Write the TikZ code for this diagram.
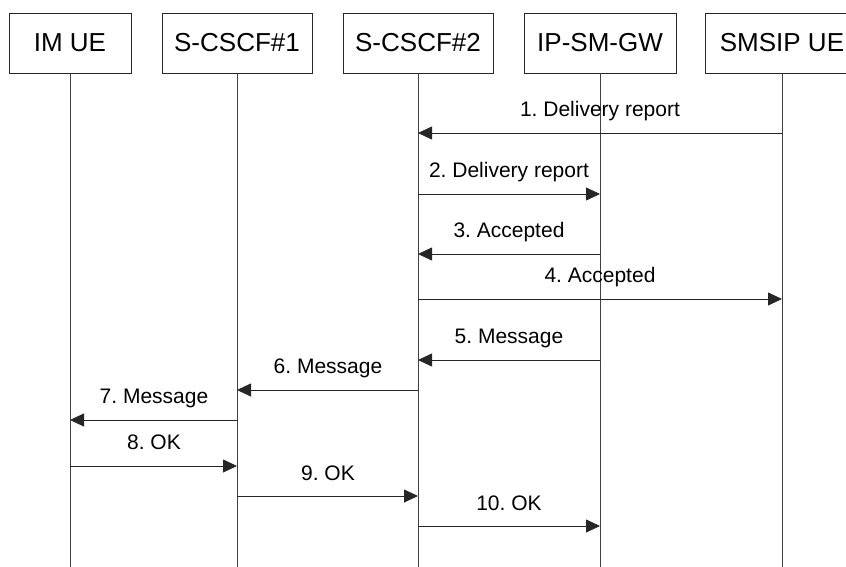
\documentclass[tikz,border=0pt]{standalone}
\usepackage{fontspec}
\setmainfont{Liberation Sans}
\usetikzlibrary{arrows.meta}
\frenchspacing
\begin{document}
\begin{tikzpicture}[x=1pt,y=-1pt,
  entity/.style={draw=black!85,line width=0.8pt,minimum height=60pt,inner sep=0pt,font=\fontsize{26}{30}\selectfont},
  lifeline/.style={draw=black!75,line width=0.8pt},
  msg/.style={draw=black!85,line width=0.8pt,-{Triangle[length=14pt,width=13pt]}},
  lbl/.style={anchor=base,inner sep=0pt,font=\fontsize{21}{25}\selectfont}]
\useasboundingbox (0,0) rectangle (846,567);
% entities
\node[entity,minimum width=122pt] (imue) at (70,43) {IM UE};
\node[entity,minimum width=150pt] (s1) at (237,43) {S-CSCF\#1};
\node[entity,minimum width=150pt] (s2) at (418,43) {S-CSCF\#2};
\node[entity,minimum width=152pt] (gw) at (600,43) {IP-SM-GW};
\node[entity,minimum width=154pt] (sm) at (782,43) {SMSIP UE};
% lifeline ends
\coordinate (imueE) at (imue.south |- 0,567);
\coordinate (s1E) at (s1.south |- 0,567);
\coordinate (s2E) at (s2.south |- 0,567);
\coordinate (gwE) at (gw.south |- 0,567);
\coordinate (smE) at (sm.south |- 0,567);
\draw[lifeline] (imue.south) -- (imueE);
\draw[lifeline] (s1.south) -- (s1E);
\draw[lifeline] (s2.south) -- (s2E);
\draw[lifeline] (gw.south) -- (gwE);
\draw[lifeline] (sm.south) -- (smE);
% messages
\draw[msg] (sm.south |- 0,133) -- (s2.south |- 0,133);
\node[lbl] (l1) at (600,117) {1. Delivery report};
\draw[msg] (s2.south |- 0,194) -- (gw.south |- 0,194);
\node[lbl] (l2) at (509,177) {2. Delivery report};
\draw[msg] (gw.south |- 0,254) -- (s2.south |- 0,254);
\node[lbl] (l3) at (509,237) {3. Accepted};
\draw[msg] (s2.south |- 0,299) -- (sm.south |- 0,299);
\node[lbl] (l4) at (600,282) {4. Accepted};
\draw[msg] (gw.south |- 0,360) -- (s2.south |- 0,360);
\node[lbl] (l5) at (509,343) {5. Message};
\draw[msg] (s2.south |- 0,390) -- (s1.south |- 0,390);
\node[lbl] (l6) at (328,373) {6. Message};
\draw[msg] (s1.south |- 0,420) -- (imue.south |- 0,420);
\node[lbl] (l7) at (154,403) {7. Message};
\draw[msg] (imue.south |- 0,466) -- (s1.south |- 0,466);
\node[lbl] (l8) at (154,449) {8. OK};
\draw[msg] (s1.south |- 0,496) -- (s2.south |- 0,496);
\node[lbl] (l9) at (328,480) {9. OK};
\draw[msg] (s2.south |- 0,526) -- (gw.south |- 0,526);
\node[lbl] (l10) at (509,510) {10. OK};
\end{tikzpicture}
\end{document}
